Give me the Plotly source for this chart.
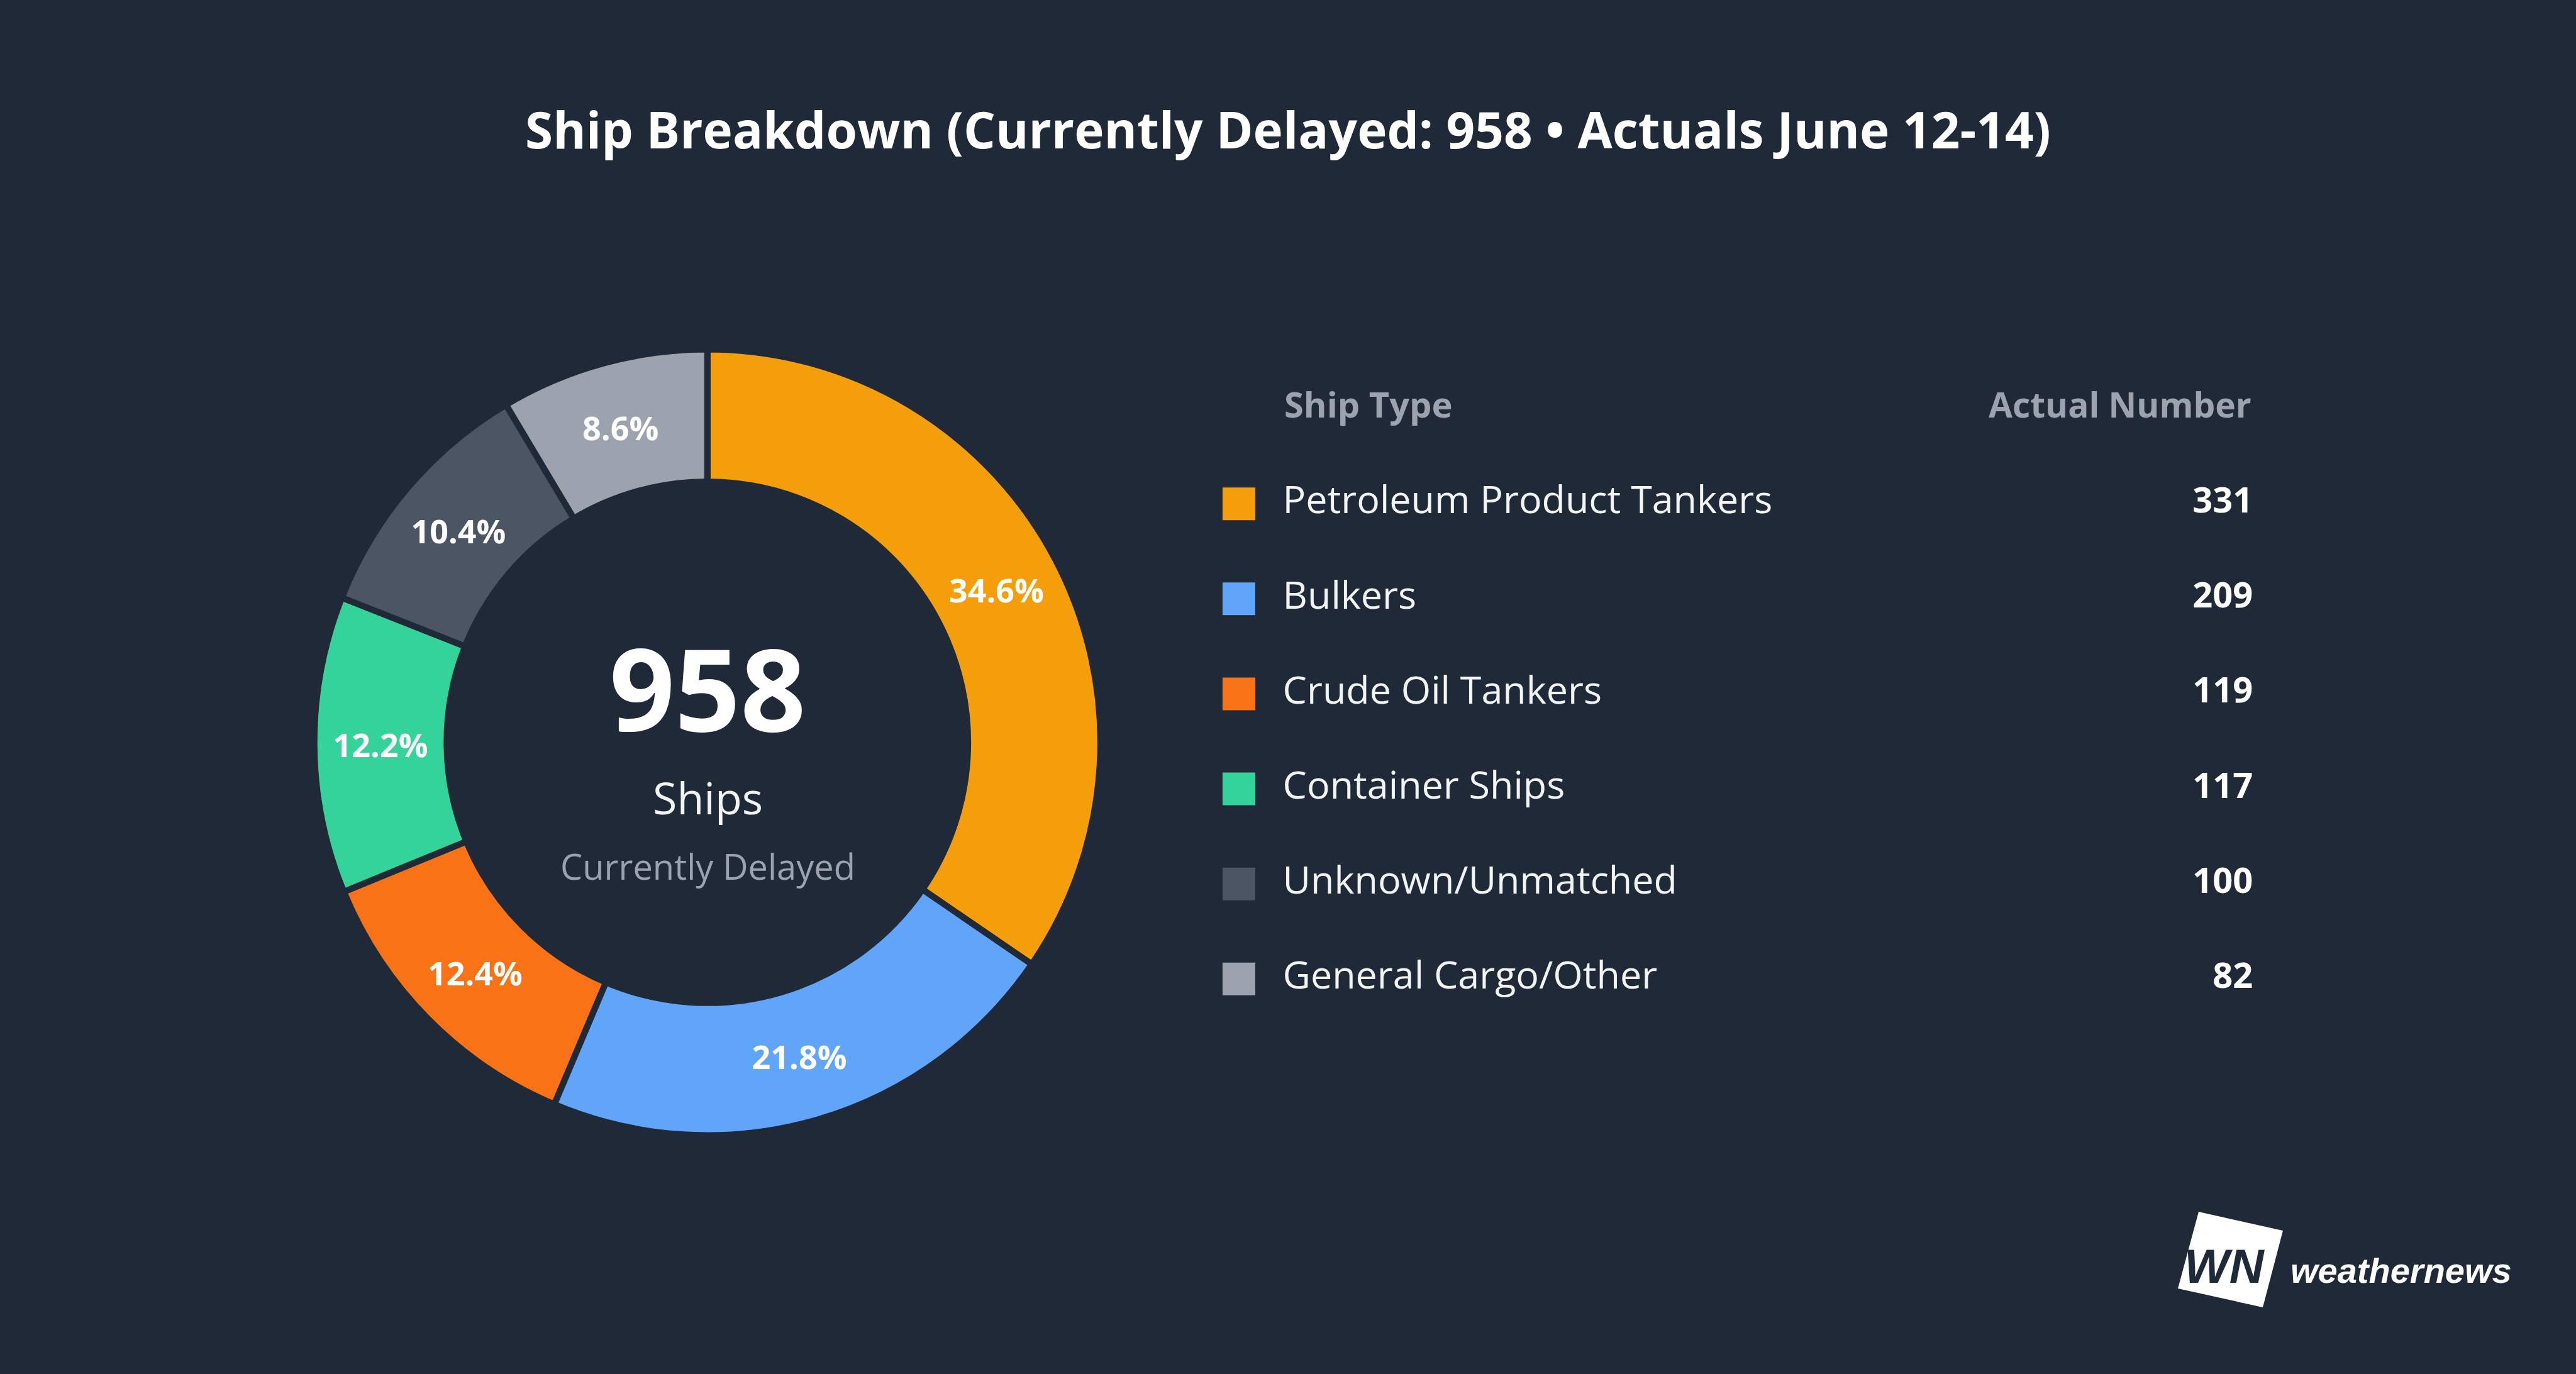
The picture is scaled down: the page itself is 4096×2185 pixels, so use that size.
import plotly.graph_objects as go

ship_types = ["Petroleum Product Tankers", "Bulkers", "Crude Oil Tankers",
              "Container Ships", "Unknown/Unmatched", "General Cargo/Other"]
ship_counts = [331, 209, 119, 117, 100, 82]
slice_colors = ["#f59e0b", "#60a5fa", "#f97316", "#34d399", "#4b5563", "#9ca3af"]
total_delayed = 958

BG = "#1f2937"
W, H = 4096, 2185
FONT = "Open Sans"


def px(x, y):
    # pixel -> paper coords (for decorations only)
    return x / W, 1 - y / H


fig = go.Figure()

# donut
fig.add_trace(go.Pie(
    labels=ship_types, values=ship_counts, sort=False, direction="clockwise",
    hole=0.663, marker=dict(colors=slice_colors, line=dict(color=BG, width=10)),
    texttemplate="%{percent:.1%}", textposition="inside",
    insidetextorientation="horizontal",
    textfont=dict(family=FONT, size=52, color="white", weight=700),
    domain=dict(x=[0.1220, 0.4272], y=[0.1735, 0.7460]),
    showlegend=False, hoverinfo="label+value+percent",
))

# table-like legend on its own axes
rows = list(range(len(ship_types)))
fig.add_trace(go.Scatter(
    x=[0.027] * len(rows), y=rows, mode="markers",
    marker=dict(symbol="square", size=52, color=slice_colors),
    xaxis="x", yaxis="y", showlegend=False, hoverinfo="skip",
))
fig.add_trace(go.Scatter(
    x=[0.069] * len(rows), y=rows, mode="text", text=ship_types,
    textposition="middle right",
    textfont=dict(family=FONT, size=61, color="#f3f4f6"),
    xaxis="x", yaxis="y", showlegend=False, hoverinfo="skip",
))
fig.add_trace(go.Scatter(
    x=[0.999] * len(rows), y=rows, mode="text", text=[str(v) for v in ship_counts],
    textposition="middle left",
    textfont=dict(family=FONT, size=56, color="white", weight=700),
    xaxis="x", yaxis="y", showlegend=False, hoverinfo="skip",
))

fig.add_annotation(x=0.069, y=-1.05, xref="x", yref="y", text="Ship Type",
                   showarrow=False, xanchor="left", yanchor="middle",
                   font=dict(family=FONT, size=56, color="#9ca3af", weight=700))
fig.add_annotation(x=0.999, y=-1.05, xref="x", yref="y", text="Actual Number",
                   showarrow=False, xanchor="right", yanchor="middle",
                   font=dict(family=FONT, size=55, color="#9ca3af", weight=700))

# centre text
cx = 1125
for txt, y, size, color, weight in [
    (str(total_delayed), 1092, 182, "white", 700),
    ("Ships", 1268, 70, "#f3f4f6", 400),
    ("Currently Delayed", 1377, 56, "#9ca3af", 400),
]:
    ax, ay = px(cx, y)
    fig.add_annotation(x=ax, y=ay, xref="paper", yref="paper", text=txt,
                       showarrow=False, xanchor="center", yanchor="middle",
                       font=dict(family=FONT, size=size, color=color, weight=weight))

# logo
pts = [px(3496, 1927), px(3630, 1957), px(3598, 2079), px(3463, 2049)]
path = "M " + " L ".join(f"{a},{b}" for a, b in pts) + " Z"
fig.add_shape(type="path", path=path, xref="paper", yref="paper",
              fillcolor="white", line=dict(width=0))
lx, ly = px(3537, 2013)
fig.add_annotation(x=lx, y=ly, xref="paper", yref="paper", text="<b><i>WN</i></b>",
                   showarrow=False, xanchor="center", yanchor="middle",
                   font=dict(family="Liberation Sans", size=76, color=BG))
lx, ly = px(3640, 2020)
fig.add_annotation(x=lx, y=ly, xref="paper", yref="paper", text="<b><i>weathernews</i></b>",
                   showarrow=False, xanchor="left", yanchor="middle",
                   font=dict(family="Liberation Sans", size=56, color="white"))

fig.update_layout(
    width=W, height=H,
    margin=dict(l=0, r=0, t=0, b=0),
    paper_bgcolor=BG, plot_bgcolor=BG,
    title=dict(text="Ship Breakdown (Currently Delayed: 958 • Actuals June 12-14)",
               x=0.5, xanchor="center", y=px(0, 208)[1], yanchor="middle",
               font=dict(family=FONT, size=80, color="white", weight=700)),
    xaxis=dict(domain=[0.47, 0.875], range=[0, 1], visible=False, fixedrange=True),
    yaxis=dict(domain=[0.2529, 0.7371], range=[5.5, -1.5], visible=False, fixedrange=True),
)

fig.write_html("out.html", config={"displayModeBar": False},
               post_script="document.body.style.margin='0';document.body.style.background='%s';" % BG)
